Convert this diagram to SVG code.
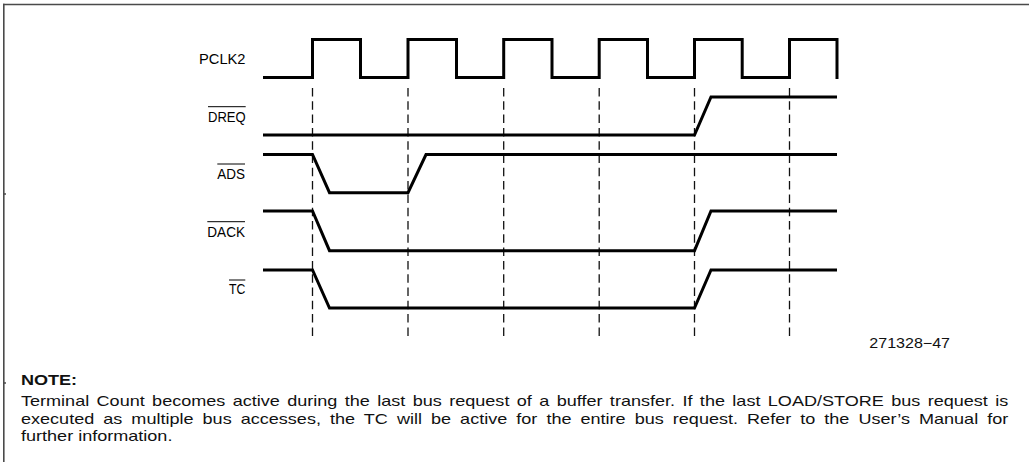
<svg xmlns="http://www.w3.org/2000/svg" width="1029" height="462" viewBox="0 0 1029 462">
  <style>
    .frame { stroke: #4a4a4a; stroke-width: 1.6; fill: none; }
    .wave { stroke: #000; stroke-width: 3; fill: none; stroke-linejoin: miter; stroke-linecap: butt; }
    .guide { stroke: #111; stroke-width: 1.3; stroke-dasharray: 8.5 4.8; fill: none; }
    .lbl { font-family: "Liberation Sans", Arial, sans-serif; font-size: 14px; fill: #000; }
    .ovl { stroke: #000; stroke-width: 1; }
    .note { font-family: "Liberation Sans", Arial, sans-serif; font-size: 14px; fill: #111; }
    .noteb { font-family: "Liberation Sans", Arial, sans-serif; font-size: 14px; font-weight: bold; fill: #111; }
  </style>
  <rect width="1029" height="462" fill="#fff"/>
  <g id="frame">
    <line class="frame" x1="3" y1="4.5" x2="1029" y2="4.5"/>
    <line class="frame" x1="3.8" y1="3.8" x2="3.8" y2="462"/>
    <line class="frame" x1="4" y1="194" x2="6" y2="194" stroke-width="1"/>
    <line class="frame" x1="4" y1="383" x2="6" y2="383" stroke-width="1"/>
  </g>
  <g id="connectors">
    <line class="guide" x1="312.5" y1="88" x2="312.5" y2="337"/>
    <line class="guide" x1="408" y1="88" x2="408" y2="337"/>
    <line class="guide" x1="503.7" y1="88" x2="503.7" y2="337"/>
    <line class="guide" x1="599.2" y1="88" x2="599.2" y2="337"/>
    <line class="guide" x1="694.5" y1="88" x2="694.5" y2="337"/>
    <line class="guide" x1="789.5" y1="88" x2="789.5" y2="337"/>
  </g>
  <g id="pclk2">
    <text class="lbl" x="199" y="64" textLength="46.5" lengthAdjust="spacingAndGlyphs">PCLK2</text>
    <path class="wave" d="M263,77.5 H312.5 V39.5 H360.5 V77.5 H408 V39.5 H456.5 V77.5 H503.7 V39.5 H552 V77.5 H599.2 V39.5 H647.5 V77.5 H694.5 V39.5 H742.2 V77.5 H789.5 V39.5 H837 V79"/>
  </g>
  <g id="dreq">
    <text class="lbl" x="208" y="121.5" textLength="37.7" lengthAdjust="spacingAndGlyphs">DREQ</text>
    <line class="ovl" x1="208" y1="106.7" x2="245.7" y2="106.7"/>
    <path class="wave" d="M263,135 H694.5 L711,97 H837"/>
  </g>
  <g id="ads">
    <text class="lbl" x="217.3" y="179" textLength="27.7" lengthAdjust="spacingAndGlyphs">ADS</text>
    <line class="ovl" x1="217.3" y1="164" x2="245" y2="164"/>
    <path class="wave" d="M263,154.5 H312.5 L329.5,192.7 H408 L426,154.5 H837"/>
  </g>
  <g id="dack">
    <text class="lbl" x="207.3" y="236.7" textLength="37.7" lengthAdjust="spacingAndGlyphs">DACK</text>
    <line class="ovl" x1="207.3" y1="221.7" x2="245" y2="221.7"/>
    <path class="wave" d="M263,211 H312.5 L329.5,250.7 H694.5 L711,211 H837"/>
  </g>
  <g id="tc">
    <text class="lbl" x="229" y="294.3" textLength="16.3" lengthAdjust="spacingAndGlyphs">TC</text>
    <line class="ovl" x1="229" y1="280" x2="245.3" y2="280"/>
    <path class="wave" d="M263,270 H312.5 L329.5,308 H694.5 L711,270 H837"/>
  </g>
  <text class="note" x="869.3" y="347.7" font-size="14.5" textLength="80.7" lengthAdjust="spacingAndGlyphs">271328−47</text>
  <g id="note" transform="translate(21,0) scale(1.29,1)">
    <text class="noteb" x="0" y="385.5">NOTE:</text>
    <text class="note" x="0" y="405.7" word-spacing="1.85">Terminal Count becomes active during the last bus request of a buffer transfer. If the last LOAD/STORE bus request is</text>
    <text class="note" x="0" y="423.7" word-spacing="3.13">executed as multiple bus accesses, the TC will be active for the entire bus request. Refer to the User’s Manual for</text>
    <text class="note" x="0" y="441.3">further information.</text>
  </g>
</svg>
